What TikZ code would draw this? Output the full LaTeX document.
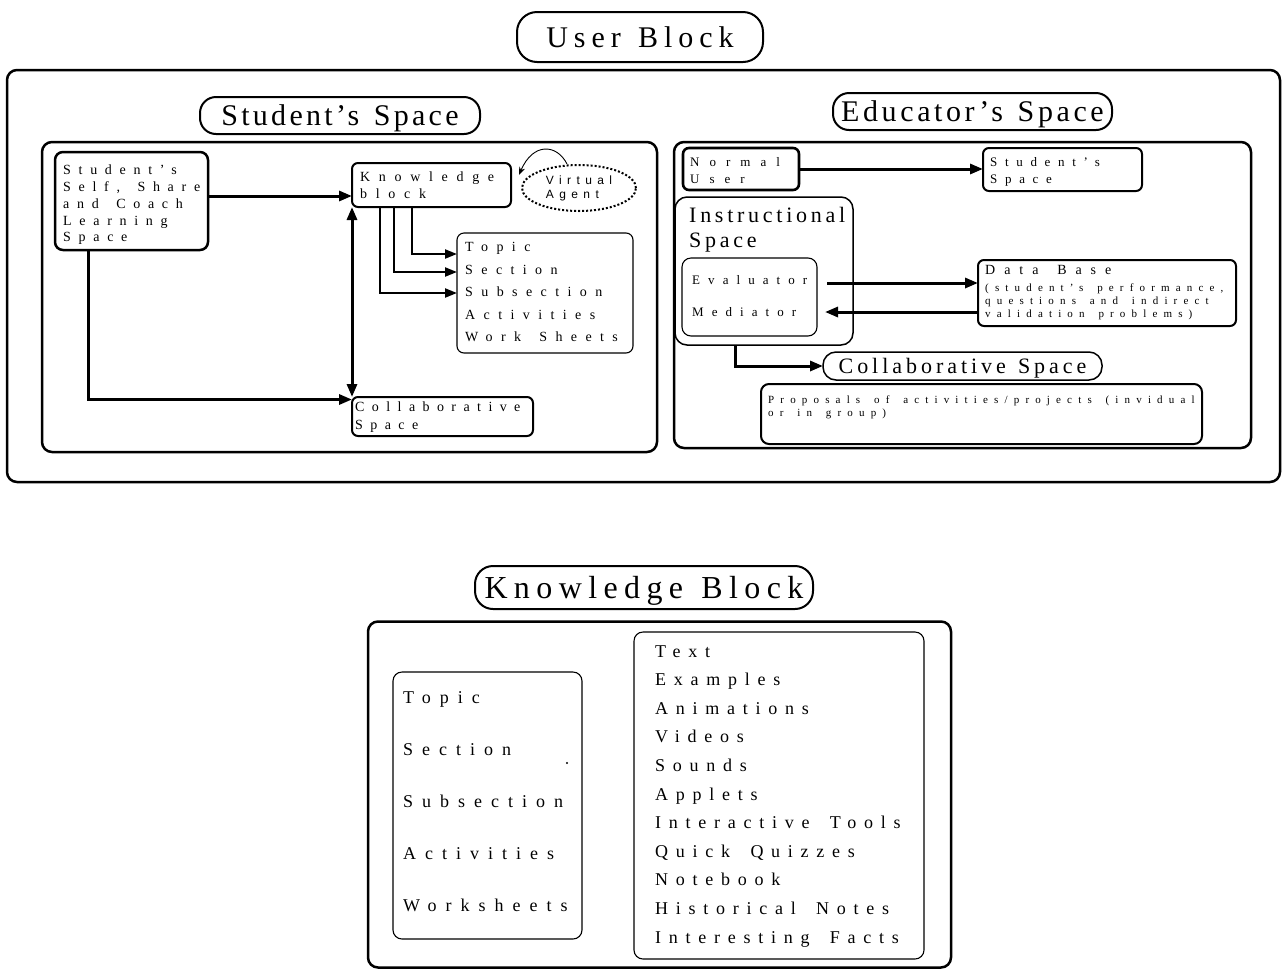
\documentclass[tikz,border=0pt]{standalone}
\usepackage{fontspec}
\setmainfont{Liberation Serif}
\newfontfamily\vafont{Liberation Sans}
\usetikzlibrary{arrows.meta,shapes.geometric}
\def\mywsx{4pt}
\newcommand{\lspc}[3]{\fontsize{#1}{#2}\selectfont\addfontfeature{LetterSpace=#3}\edef\mywsx{\the\dimexpr #1pt*45/100\relax}}
\newcommand{\tspc}[3]{\fontsize{#1}{#2}\selectfont\addfontfeature{LetterSpace=#3}\edef\mywsx{\the\dimexpr #1pt*12/100\relax}}
\newcommand{\ws}{\hspace*{\mywsx}}
\begin{document}
\begin{tikzpicture}[x=1pt,y=-1pt,
  bigbox/.style={draw, line width=2.5pt, rounded corners=10pt, inner sep=0pt, outer sep=0pt},
  box/.style={draw, line width=2pt, rounded corners=6pt, inner sep=0pt, outer sep=0pt},
  thinbox/.style={draw, line width=1.1pt, rounded corners=7pt, inner sep=0pt, outer sep=0pt},
  pill/.style={draw, line width=2pt, inner sep=0pt, outer sep=0pt, text depth=0pt},
  txt/.style={inner sep=0pt, anchor=north west, align=left},
  arr/.style={line width=3pt, -{Triangle[length=13pt,width=10pt]}},
  darr/.style={line width=3pt, {Triangle[length=13pt,width=10pt]}-{Triangle[length=13pt,width=10pt]}},
  arrs/.style={line width=2.2pt, -{Triangle[length=12pt,width=9pt]}}
]
\useasboundingbox (0,0) rectangle (1282,970);

% ---------------- User Block ----------------
\node[pill, minimum width=246, minimum height=50, rounded corners=20pt, font=\tspc{30}{36}{20}] (ubt) at (640,37) {User\ws{} Block};
\node[bigbox, minimum width=1273, minimum height=412] (ub) at (643.5,276) {};

% Student's space
\node[pill, minimum width=280, minimum height=37, rounded corners=16pt, font=\tspc{30}{36}{11}] (sst) at (340,115.5) {Student’s\ws{} Space};
\node[bigbox, minimum width=615, minimum height=310] (ssbox) at (349.5,297) {};

\node[box, line width=2.5pt, rounded corners=8pt, minimum width=153, minimum height=98] (self) at (131.5,201) {};
\node[txt, font=\lspc{14}{16.75}{55}] (selftxt) at (63,165) {Student’s\\Self,\ws{} Share\\and\ws{} Coach\\Learning\\Space};

\node[box, minimum width=159, minimum height=44] (kb) at (431.5,185) {};
\node[txt, font=\lspc{14}{17}{62}] (kbtxt) at (360,172) {Knowledge\\block};

\node[ellipse, draw, line width=2pt, dotted, minimum width=114, minimum height=46, inner sep=0pt, align=left, font={\vafont\lspc{12}{14}{45}}] (va) at (579,188) {Virtual\\Agent};
\coordinate (vatip) at (519,175);
\draw[line width=0.9pt, -{Stealth[length=8pt,width=6pt]}] ([xshift=-12pt]va.north) .. controls (557,144) and (533,142) .. (vatip);

\node[thinbox, minimum width=176, minimum height=120] (topics) at (545,293) {};
\node[txt, font=\lspc{14}{22.5}{60}] (topicstxt) at (465,242.5) {Topic\\Section\\Subsection\\Activities\\Work\ws{} Sheets};

\node[box, minimum width=181, minimum height=39] (collab) at (442.5,416.5) {};
\node[txt, font=\lspc{14}{18}{53}] (collabtxt) at (355,401.5) {Collaborative\\Space};

\draw[arr] ([yshift=5pt]self.east) -- ([yshift=-11pt]kb.west);
\draw[darr] (kb.south west) -- (kb.south west |- collab.north);
\draw[arr] ([xshift=-43.5pt]self.south) |- ([yshift=17pt]collab.west);
\draw[arrs] ([xshift=-19.5pt]kb.south) |- ([yshift=39pt]topics.west);
\draw[arrs] ([xshift=-37.5pt]kb.south) |- ([yshift=21pt]topics.west);
\draw[arrs] ([xshift=-51.5pt]kb.south) |- (topics.west);

% Educator's space
\node[pill, minimum width=279, minimum height=37, rounded corners=16pt, font=\tspc{30}{36}{12}] (edt) at (972.5,111.5) {Educator’s\ws{} Space};
\node[bigbox, minimum width=577, minimum height=306] (edbox) at (962.5,295) {};

\node[box, line width=2.6pt, minimum width=116, minimum height=42] (normal) at (741,169) {};
\node[txt, font=\lspc{13}{17}{77}] (normaltxt) at (690,157) {Normal\\User};

\node[box, minimum width=159, minimum height=43] (edstud) at (1062.5,169.5) {};
\node[txt, font=\lspc{13}{17}{59}] (edstudtxt) at (990,157) {Student’s\\Space};

\node[box, line width=1.5pt, rounded corners=12pt, minimum width=178, minimum height=148] (instr) at (764,271) {};
\node[txt, font=\lspc{22}{25}{17}] (instrtxt) at (689,207.5) {Instructional\\Space};

\node[thinbox, rounded corners=9pt, minimum width=135, minimum height=78] (evalmed) at (749.5,297) {};
\node[txt, font=\lspc{13}{32}{62}] (evaltxt) at (692,275) {Evaluator\\Mediator};

\node[box, minimum width=258, minimum height=66] (db) at (1107,293) {};
\node[txt, font=\lspc{14}{17}{64}] (dbtitle) at (985,265.5) {Data\ws{} Base};
\node[txt, font=\lspc{11}{13}{56}] (dbdesc) at (985,283.5) {(student’s\ws{} performance,\\questions\ws{} and\ws{} indirect\\validation\ws{} problems)};

\node[pill, minimum width=279, minimum height=28, rounded corners=13pt, line width=1.5pt, font=\tspc{22}{26}{18}] (cst) at (962.5,366) {Collaborative\ws{} Space};

\node[box, rounded corners=8pt, minimum width=441, minimum height=60] (prop) at (981.5,414) {};
\node[txt, font=\lspc{11}{12.5}{56}] (proptxt) at (768,396) {Proposals\ws{} of\ws{} activities/projects\ws{} (invidual\\or\ws{} in\ws{} group)};

\draw[arr] (normal.east) -- (normal.east -| edstud.west);
\draw[arr] ([xshift=10pt,yshift=14pt]evalmed.east) -- ([yshift=10pt]db.west);
\draw[arr] ([yshift=-19pt]db.west) -- ([xshift=8pt,yshift=-15pt]evalmed.east);
\draw[arr] ([xshift=-29pt]instr.south) |- (cst.west);

% ---------------- Knowledge Block ----------------
\node[pill, minimum width=338, minimum height=43, rounded corners=18pt, font=\tspc{32}{38}{20}] (kbt) at (644,587.5) {Knowledge\ws{} Block};
\node[bigbox, minimum width=583, minimum height=346] (kbouter) at (659.5,794.5) {};

\node[thinbox, rounded corners=9pt, minimum width=189, minimum height=267] (kbleft) at (487.5,805.5) {};
\node[txt, font=\lspc{18}{52}{50}] (kblefttxt) at (403,691) {Topic\\Section\\Subsection\\Activities\\Worksheets};
\fill (567,763) circle (1.2);

\node[thinbox, rounded corners=9pt, minimum width=290, minimum height=327] (kbright) at (779,795.5) {};
\node[txt, font=\lspc{18}{28.6}{43}] (kbrighttxt) at (655,645) {Text\\Examples\\Animations\\Videos\\Sounds\\Applets\\Interactive\ws{} Tools\\Quick\ws{} Quizzes\\Notebook\\Historical\ws{} Notes\\Interesting\ws{} Facts};
\end{tikzpicture}
\end{document}
